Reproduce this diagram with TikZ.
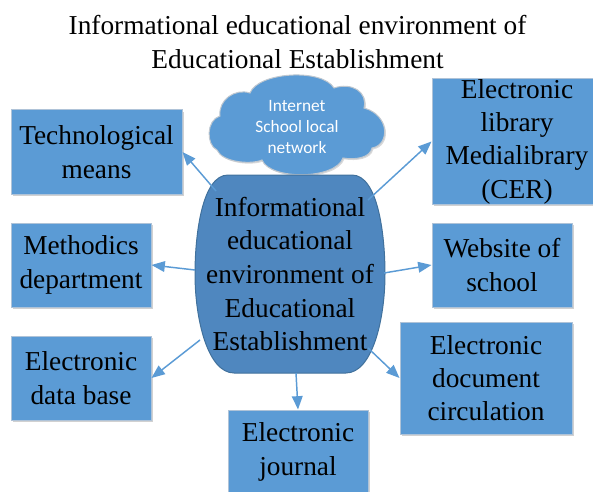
\documentclass[tikz,border=0pt]{standalone}
\usepackage{fontspec}
\setmainfont{Liberation Serif}
\newfontfamily\cloudfont{Carlito}
\usetikzlibrary{arrows.meta,shadows}
\definecolor{boxblue}{HTML}{5B9BD5}
\definecolor{boxborder}{HTML}{AFC3D8}
\definecolor{centerfill}{HTML}{4F87BF}
\definecolor{centerborder}{HTML}{41719C}
\definecolor{cloudborder}{HTML}{C0C8D0}
\tikzset{
  infobox/.style={rectangle, fill=boxblue, draw=boxborder, line width=0.75pt,
    align=center, inner sep=0pt, font=\rmfamily\fontsize{20.5}{25}\selectfont,
    drop shadow={shadow xshift=1.2pt, shadow yshift=-1.2pt, opacity=0.18, fill=black}},
  link/.style={draw=boxblue, line width=1.1pt, -{Triangle[length=10pt,width=8pt]}},
}
\begin{document}
\begin{tikzpicture}[x=0.75pt,y=-0.75pt]
\useasboundingbox (0,0) rectangle (593,492);
% title
\node[align=center, inner sep=0pt, font=\rmfamily\fontsize{20.5}{25}\selectfont] (title) at (297.5,42) {Informational educational environment of\\Educational Establishment};
% cloud outline
\path[fill=boxblue, draw=cloudborder, line width=0.75pt,
  drop shadow={shadow xshift=1pt, shadow yshift=-1pt, opacity=0.15, fill=black}]
  (217,150) .. controls (206,145) and (206,120) .. (220,116)
  .. controls (218,100) and (235,88) .. (250,93)
  .. controls (258,72) and (322,68) .. (334,88)
  .. controls (352,82) and (368,92) .. (364,108)
  .. controls (390,115) and (390,145) .. (372,148)
  .. controls (370,158) and (355,160) .. (343,158)
  .. controls (335,180) and (270,180) .. (262,160)
  .. controls (250,165) and (222,162) .. (217,150) -- cycle;
\node[inner sep=0pt, align=center, text=white,
  font=\cloudfont\fontsize{13}{15.4}\selectfont] (cloud) at (297,127) {Internet\\School local\\network};
% central shape
\path[fill=centerfill, draw=centerborder, line width=0.75pt]
  (228,175) -- (352,175) .. controls (378,175) and (385,235) .. (385,274)
  .. controls (385,320) and (372,373) .. (346,373) -- (234,373)
  .. controls (208,373) and (195,320) .. (195,274)
  .. controls (195,235) and (202,175) .. (228,175) -- cycle;
\node[align=center, inner sep=0pt, font=\rmfamily\fontsize{20.5}{25.3}\selectfont] (c) at (290,274)
  {Informational\\educational\\environment of\\Educational\\Establishment};
% boundary points of the central shape
\coordinate (s1) at (216,191);
\coordinate (s2) at (195,270);
\coordinate (s3) at (200,340);
\coordinate (s4) at (368,200);
\coordinate (s5) at (384,273);
\coordinate (s6) at (368,348);
\coordinate (s7) at (296,373);
% boxes
\node[infobox, minimum width=128.25pt, minimum height=63pt] (tech) at (96.5,152) {Technological\\means};
\node[infobox, minimum width=105pt, minimum height=63pt] (meth) at (81,265) {Methodics\\department};
\node[infobox, minimum width=105pt, minimum height=63pt] (db) at (81,378) {Electronic\\data base};
\node[infobox, minimum width=127.5pt, minimum height=93.75pt] (lib) at (517,141.5) {Electronic\\library\\Medialibrary\\(CER)};
\node[infobox, minimum width=105pt, minimum height=63pt] (web) at (502,265) {Website of\\school};
\node[infobox, minimum width=129pt, minimum height=84pt] (doc) at (486,378) {Electronic\\document\\circulation};
\node[infobox, minimum width=105pt, minimum height=63pt] (journal) at (298,452) {Electronic\\journal};
% connectors
\draw[link] (s1) -- (tech.east);
\draw[link] (s2) -- (meth.east);
\draw[link] (s3) -- (db.east);
\draw[link] (s4) -- (lib.west);
\draw[link] (s5) -- (web.west);
\draw[link] (s6) -- (doc.west);
\draw[link] (s7) -- (journal.north);
\end{tikzpicture}
\end{document}
